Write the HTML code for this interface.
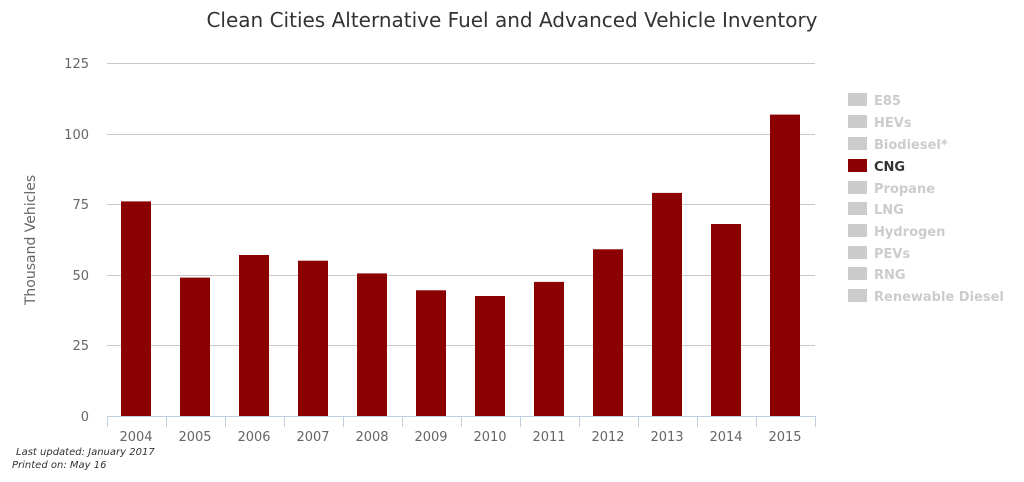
<!DOCTYPE html>
<html><head><meta charset="utf-8"><style>
html,body{margin:0;padding:0;background:#fff;}
svg{display:block;font-family:"DejaVu Sans","Liberation Sans",sans-serif;}
</style></head><body>
<svg width="1024" height="482" viewBox="0 0 1024 482">
<text x="512" y="27" text-anchor="middle" font-size="20" fill="#333">Clean Cities Alternative Fuel and Advanced Vehicle Inventory</text>
<g stroke="#c8c8c8" stroke-width="1">
<line x1="107" x2="815" y1="63.5" y2="63.5"/>
<line x1="107" x2="815" y1="134.5" y2="134.5"/>
<line x1="107" x2="815" y1="204.5" y2="204.5"/>
<line x1="107" x2="815" y1="275.5" y2="275.5"/>
<line x1="107" x2="815" y1="345.5" y2="345.5"/>
</g>
<g font-size="13" fill="#666" text-anchor="end">
<text x="89" y="68">125</text><text x="89" y="139">100</text><text x="89" y="209">75</text>
<text x="89" y="280">50</text><text x="89" y="350">25</text><text x="89" y="421">0</text>
</g>
<text transform="translate(35,240) rotate(-90)" text-anchor="middle" font-size="14" fill="#666">Thousand Vehicles</text>
<g fill="#8b0000">
<rect x="121" y="201.4" width="30" height="214.6"/>
<rect x="180" y="277.6" width="30" height="138.4"/>
<rect x="239" y="255.0" width="30" height="161.0"/>
<rect x="298" y="260.7" width="30" height="155.3"/>
<rect x="357" y="273.4" width="30" height="142.6"/>
<rect x="416" y="290.3" width="30" height="125.7"/>
<rect x="475" y="296.0" width="30" height="120.0"/>
<rect x="534" y="281.9" width="30" height="134.1"/>
<rect x="593" y="249.3" width="30" height="166.7"/>
<rect x="652" y="192.9" width="30" height="223.1"/>
<rect x="711" y="224.0" width="30" height="192.0"/>
<rect x="770" y="114.6" width="30" height="301.4"/>
</g>
<g stroke="#c0d0e0" stroke-width="1">
<line x1="107" x2="815" y1="416.5" y2="416.5"/>
<line x1="107.5" x2="107.5" y1="416" y2="427"/>
<line x1="166.5" x2="166.5" y1="416" y2="427"/>
<line x1="225.5" x2="225.5" y1="416" y2="427"/>
<line x1="284.5" x2="284.5" y1="416" y2="427"/>
<line x1="343.5" x2="343.5" y1="416" y2="427"/>
<line x1="402.5" x2="402.5" y1="416" y2="427"/>
<line x1="461.5" x2="461.5" y1="416" y2="427"/>
<line x1="520.5" x2="520.5" y1="416" y2="427"/>
<line x1="579.5" x2="579.5" y1="416" y2="427"/>
<line x1="638.5" x2="638.5" y1="416" y2="427"/>
<line x1="697.5" x2="697.5" y1="416" y2="427"/>
<line x1="756.5" x2="756.5" y1="416" y2="427"/>
<line x1="815.5" x2="815.5" y1="416" y2="427"/>
</g>
<g font-size="13" fill="#666" text-anchor="middle">
<text x="136" y="441">2004</text><text x="195" y="441">2005</text><text x="254" y="441">2006</text>
<text x="313" y="441">2007</text><text x="372" y="441">2008</text><text x="431" y="441">2009</text>
<text x="490" y="441">2010</text><text x="549" y="441">2011</text><text x="608" y="441">2012</text>
<text x="667" y="441">2013</text><text x="726" y="441">2014</text><text x="785" y="441">2015</text>
</g>
<g font-size="10" font-style="italic" fill="#333">
<text x="16" y="455">Last updated: January 2017</text>
<text x="12" y="468">Printed on: May 16</text>
</g>
<g font-size="13" font-weight="bold" fill="#ccc">
<rect x="848" y="93" width="19" height="13"/><text x="874" y="105">E85</text>
<rect x="848" y="115" width="19" height="13"/><text x="874" y="127">HEVs</text>
<rect x="848" y="137" width="19" height="13"/><text x="874" y="149">Biodiesel*</text>
<rect x="848" y="159" width="19" height="13" fill="#8b0000"/><text x="874" y="171" fill="#333">CNG</text>
<rect x="848" y="181" width="19" height="13"/><text x="874" y="193">Propane</text>
<rect x="848" y="202" width="19" height="13"/><text x="874" y="214">LNG</text>
<rect x="848" y="224" width="19" height="13"/><text x="874" y="236">Hydrogen</text>
<rect x="848" y="246" width="19" height="13"/><text x="874" y="258">PEVs</text>
<rect x="848" y="267" width="19" height="13"/><text x="874" y="279">RNG</text>
<rect x="848" y="289" width="19" height="13"/><text x="874" y="301">Renewable Diesel</text>
</g>
</svg>
</body></html>
